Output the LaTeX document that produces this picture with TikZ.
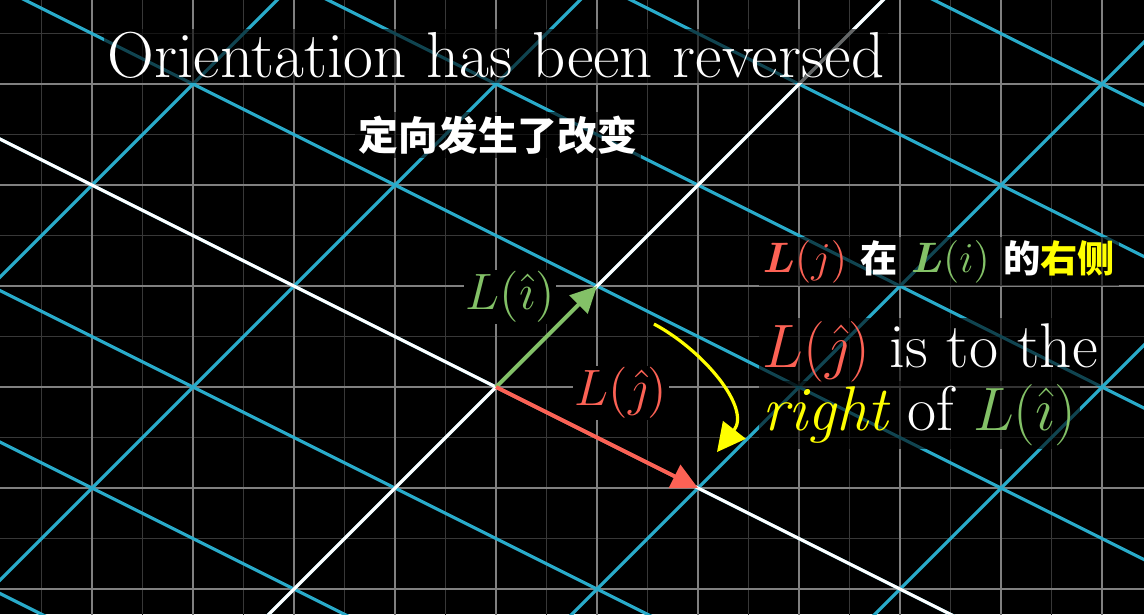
\documentclass[tikz,border=0pt]{standalone}
\usepackage{amsmath}
\usepackage{bm}
\usepackage{fontspec}
\newfontfamily\cjk{Noto Sans CJK SC}
\usepackage{xcolor}
\definecolor{gridblue}{HTML}{29ABCA}
\definecolor{vecgreen}{HTML}{83C167}
\definecolor{vecred}{HTML}{FC6255}
\definecolor{hiyellow}{HTML}{FFFF00}
\usetikzlibrary{arrows.meta}

\begin{document}
\begin{tikzpicture}[
	subgrid/.style={draw=black!78, line width=0.35pt},
	maingrid/.style={draw=black!50, line width=0.6pt},
	tgrid/.style={draw=gridblue, line width=0.9pt},
	taxis/.style={draw=white, line width=0.9pt},
	vec/.style={line width=1.1pt, -{Triangle[length=2.6mm, width=2.5mm]}},
	lbl/.style={fill=black, inner sep=0.5pt, font=\fontsize{13.5}{16}\selectfont},
	caption/.style={fill=black, fill opacity=0.6, text opacity=1, inner sep=1pt, text=white}
	]
\fill[black] (-4.911,-2.248) rectangle (6.416,3.832);
\clip (-4.911,-2.248) rectangle (6.416,3.832);

\foreach \x in {-5,-4.5,...,6.5} \draw[subgrid] (\x,-2.5) -- (\x,4);
\foreach \y in {-2.5,-2,...,4} \draw[subgrid] (-5,\y) -- (6.5,\y);
\foreach \x in {-5,...,6} \draw[maingrid] (\x,-2.5) -- (\x,4);
\foreach \y in {-2,...,3} \draw[maingrid] (-5,\y) -- (6.5,\y);

\foreach \b in {-6,...,6} \draw[tgrid] ({2*\b-10},{-\b-10}) -- ({2*\b+10},{-\b+10});
\foreach \a in {-10,...,10} \draw[tgrid] ({\a-12},{\a+6}) -- ({\a+12},{\a-6});
\draw[taxis] (-10,-10) -- (10,10);
\draw[taxis] (-12,6) -- (12,-6);

\coordinate (O) at (0,0);
\coordinate (Li) at (1,1);
\coordinate (Lj) at (2,-1);
\draw[vec, vecgreen] (O) -- (Li);
\draw[vec, vecred] (O) -- (Lj);

\node[lbl, text=vecgreen] (labi) at (0.139,0.891) {$L(\hat{\imath})$};
\node[lbl, text=vecred] (labj) at (1.238,-0.06) {$L(\hat{\jmath})$};

\coordinate (turnA) at (1.564,0.624);
\coordinate (turnB) at (2.188,-0.644);
\draw[hiyellow, line width=0.9pt, -{Triangle[length=2.8mm, width=2.8mm]}]
  (turnA) to[out=-28, in=52] (turnB);

\node[caption, anchor=base, font=\fontsize{18.3}{22}\selectfont] (title) at (0,3.06)
  {Orientation has been reversed};
\node[caption, font=\cjk\bfseries\fontsize{11.2}{14}\selectfont] (subtitle) at (0.02,2.495)
  {定向发生了改变};
\node[caption, anchor=base west, font=\fontsize{11.5}{14}\selectfont] (cnline) at (2.6,1.139)
  {\textcolor{vecred}{$\bm{L}(j)$} {\cjk\bfseries\fontsize{10.5}{12}\selectfont 在} \textcolor{vecgreen}{$\bm{L}(i)$} {\cjk\bfseries\fontsize{10.5}{12}\selectfont 的\textcolor{hiyellow}{右侧}}};
\node[caption, anchor=base west, font=\fontsize{17.8}{21}\selectfont] (enA) at (2.6,0.198)
  {\textcolor{vecred}{$L(\hat{\jmath})$} is to the};
\node[caption, anchor=base west, font=\fontsize{17.8}{21}\selectfont] (enB) at (2.6,-0.43)
  {\textcolor{hiyellow}{\itshape right} of \textcolor{vecgreen}{$L(\hat{\imath})$}};
\end{tikzpicture}
\end{document}
